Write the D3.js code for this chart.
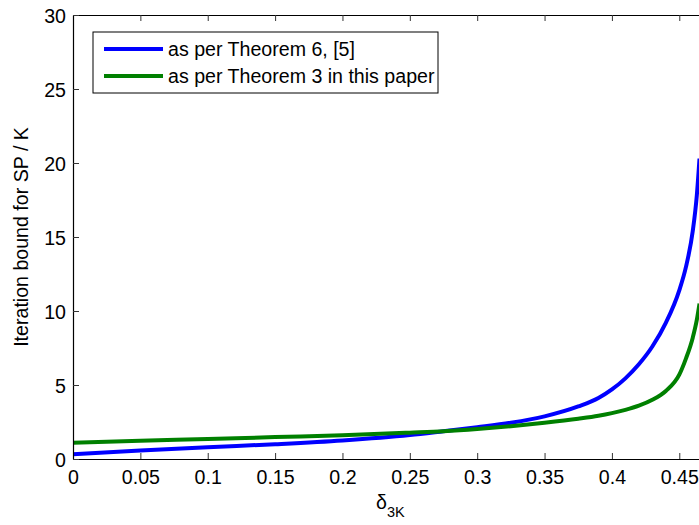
<!DOCTYPE html>
<html>
<head>
<meta charset="utf-8">
<script src="https://cdn.jsdelivr.net/npm/d3@7"></script>
<style>
  body { margin: 0; background: #fff; }
  text { font-family: "Liberation Sans", Arial, Helvetica, sans-serif; }
</style>
</head>
<body>
<div id="chart"></div>
<script>
// values
const delta = [0, 0.05, 0.1, 0.15, 0.2, 0.25, 0.275, 0.3, 0.325, 0.35, 0.375, 0.39, 0.4, 0.41, 0.42, 0.43, 0.44, 0.45, 0.455, 0.46, 0.463, 0.465];
const boundTheorem6 = [0.32, 0.58, 0.8, 1.0, 1.25, 1.62, 1.88, 2.15, 2.45, 2.88, 3.55, 4.12, 4.7, 5.45, 6.4, 7.6, 9.2, 11.4, 13.0, 15.4, 17.8, 20.3];
const boundTheorem3 = [1.1, 1.24, 1.35, 1.48, 1.6, 1.78, 1.88, 2.03, 2.22, 2.45, 2.72, 2.92, 3.1, 3.32, 3.6, 4.0, 4.6, 5.7, 6.8, 8.2, 9.4, 10.5];
const xTicks = [0, 0.05, 0.1, 0.15, 0.2, 0.25, 0.3, 0.35, 0.4, 0.45];
const yTicks = [0, 5, 10, 15, 20, 25, 30];
const legendLabels = ["as per Theorem 6, [5]", "as per Theorem 3 in this paper"];
const colors = ["#0000ff", "#008000"];

function drawChart() {
  const width = 699, height = 525;
  const left = 73, top = 15, bottom = 459;
  const fontSize = "19.6px";

  const svg = d3.select("#chart")
    .append("svg")
    .attr("width", width)
    .attr("height", height);

  // x range runs past the window edge, like the cut-off original
  const x = d3.scaleLinear().domain([0, 0.47]).range([left, left + 0.47 * 1347.3]);
  const y = d3.scaleLinear().domain([0, 30]).range([bottom, top]);

  svg.append("clipPath").attr("id", "plot-clip")
    .append("rect")
    .attr("x", left).attr("y", top)
    .attr("width", x.range()[1] - left).attr("height", bottom - top);

  const line = d3.line()
    .x((d, i) => x(delta[i]))
    .y(d => y(d))
    .curve(d3.curveMonotoneX);

  const g = svg.append("g").attr("clip-path", "url(#plot-clip)");
  [boundTheorem6, boundTheorem3].forEach((series, i) => {
    g.append("path")
      .datum(series)
      .attr("fill", "none")
      .attr("stroke", colors[i])
      .attr("stroke-width", 4)
      .attr("d", line);
  });

  // axes, ticks point inward like MATLAB
  const xAxis = svg.append("g")
    .attr("transform", `translate(0,${bottom})`)
    .call(d3.axisBottom(x).tickValues(xTicks).tickFormat(d3.format("")).tickSizeInner(-6).tickSizeOuter(0).tickPadding(11));

  const topAxis = svg.append("g")
    .attr("transform", `translate(0,${top})`)
    .call(d3.axisTop(x).tickValues(xTicks).tickFormat("").tickSizeInner(-6).tickSizeOuter(0));

  const yAxis = svg.append("g")
    .attr("transform", `translate(${left},0)`)
    .call(d3.axisLeft(y).tickValues(yTicks).tickSizeInner(-6).tickSizeOuter(0).tickPadding(7));

  [xAxis, topAxis, yAxis].forEach(a => {
    a.selectAll(".domain").attr("stroke", "#000").attr("stroke-width", 1.2);
    a.selectAll(".tick line").attr("stroke", "#333");
    a.selectAll("text").attr("font-size", fontSize).attr("fill", "#000")
      .style("font-family", "'Liberation Sans', Arial, sans-serif");
  });
  yAxis.selectAll("text").attr("dy", "0.38em");

  // axis labels
  const xLabel = svg.append("text")
    .attr("x", 376)
    .attr("y", 509)
    .attr("font-size", fontSize)
    .attr("fill", "#000");
  xLabel.append("tspan").text("δ");
  xLabel.append("tspan").attr("font-size", "14.5px").attr("dy", 8).text("3K");

  svg.append("text")
    .attr("transform", `translate(28,${(top + bottom) / 2}) rotate(-90)`)
    .attr("text-anchor", "middle")
    .attr("font-size", fontSize)
    .attr("fill", "#000")
    .text("Iteration bound for SP / K");

  // legend
  const legend = svg.append("g");
  legend.append("rect")
    .attr("x", 93).attr("y", 32)
    .attr("width", 345).attr("height", 61)
    .attr("fill", "#fff")
    .attr("stroke", "#000")
    .attr("stroke-width", 1);

  legendLabels.forEach((label, i) => {
    const ly = 49 + i * 27;
    legend.append("line")
      .attr("x1", 104).attr("x2", 163)
      .attr("y1", ly).attr("y2", ly)
      .attr("stroke", colors[i])
      .attr("stroke-width", 4);
    legend.append("text")
      .attr("x", 168)
      .attr("y", ly + 7)
      .attr("font-size", fontSize)
      .attr("fill", "#000")
      .text(label);
  });
}

drawChart();
</script>
</body>
</html>
